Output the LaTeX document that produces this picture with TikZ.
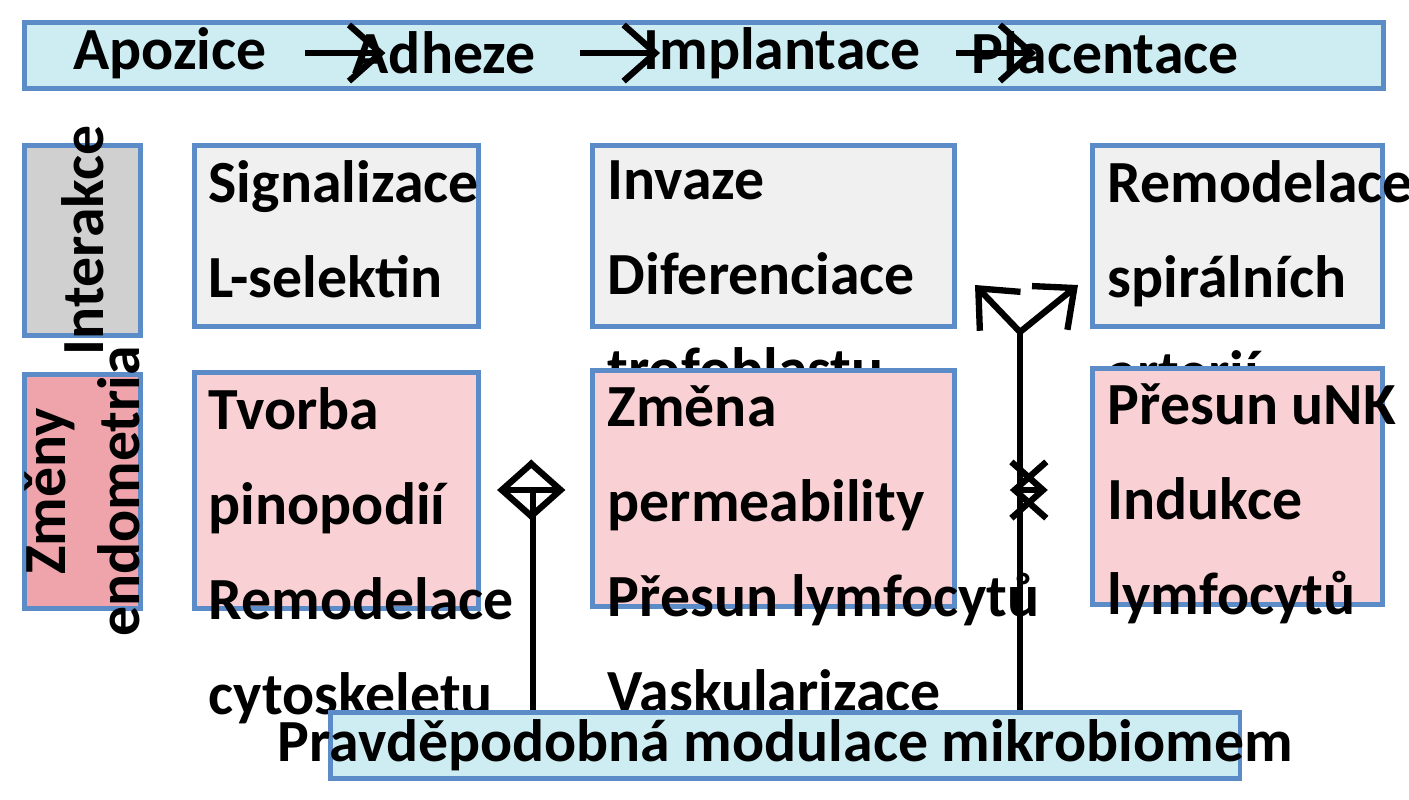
\documentclass[tikz,border=0pt]{standalone}
\usepackage{fontspec}
\setmainfont{Carlito}
\usetikzlibrary{arrows.meta,positioning}

\definecolor{bord}{HTML}{5B8CC8}
\definecolor{cyanfill}{HTML}{CDEDF2}
\definecolor{grayfill}{HTML}{F0F0F0}
\definecolor{pinkfill}{HTML}{F9D0D3}
\definecolor{sidegray}{HTML}{D0D0D0}
\definecolor{sidepink}{HTML}{EFA3AB}

\tikzset{
  box/.style={draw=bord, line width=1.4pt, anchor=north west, inner sep=0pt},
  lbl/.style={anchor=north west, align=left, inner sep=0pt, font=\fontsize{17}{27}\selectfont\bfseries},
  head/.style={font=\fontsize{17}{20}\selectfont\bfseries, inner sep=0pt},
  arr/.style={line width=1.8pt, -{Straight Barb[length=9pt,width=16pt,line width=1.8pt]}},
  darr/.style={line width=1.8pt, {Straight Barb[length=9pt,width=16pt,line width=1.8pt]}-{Straight Barb[length=9pt,width=16pt,line width=1.8pt]}}
}

\begin{document}
\begin{tikzpicture}[x=0.01cm,y=-0.01cm]
\useasboundingbox (0,0) rectangle (1409,800);

% Top bar
\node[box, fill=cyanfill, minimum width=13.58cm, minimum height=0.66cm] (top) at (22,20) {};
\node[head] (apo) at (170,53) {Apozice};
\node[head] (adh) at (444,53) {Adheze};
\node[head] (imp) at (782,53) {Implantace};
\node[head] (pla) at (1105,53) {Placentace};
\draw[arr] (apo.east) ++(38,0) -- ++(80,0);
\draw[arr] (adh.east) ++(44,0) -- ++(80,0);
\draw[arr] (imp.east) ++(35,0) -- ++(80,0);

% Side labels
\node[box, fill=sidegray, minimum width=1.16cm, minimum height=1.9cm] (inter) at (22,143) {};
\node[head, rotate=90] at (inter.center) {Interakce};
\node[box, fill=sidepink, minimum width=1.16cm, minimum height=2.34cm] (zmeny) at (22,372) {};
\node[head, rotate=90, align=center, font=\fontsize{17}{21}\selectfont\bfseries] at (zmeny.center) {Změny\\endometria};

% First row
\node[box, fill=grayfill, minimum width=2.84cm, minimum height=1.81cm] (sig) at (192,143) {};
\node[lbl] at (208,160) {Signalizace\\L-selektin};
\node[box, fill=grayfill, minimum width=3.62cm, minimum height=1.81cm] (inv) at (590,143) {};
\node[lbl] at (607,160) {Invaze\\Diferenciace\\trofoblastu};
\node[box, fill=grayfill, minimum width=2.9cm, minimum height=1.81cm] (rem) at (1090,143) {};
\node[lbl] at (1107,160) {Remodelace\\spirálních\\arterií};

% Second row
\node[box, fill=pinkfill, minimum width=2.84cm, minimum height=2.36cm] (tvo) at (192,370) {};
\node[lbl] at (208,387) {Tvorba\\pinopodií\\Remodelace\\cytoskeletu};
\node[box, fill=pinkfill, minimum width=3.62cm, minimum height=2.36cm] (zme) at (590,368) {};
\node[lbl] at (607,385) {Změna\\permeability\\Přesun lymfocytů\\Vaskularizace};
\node[box, fill=pinkfill, minimum width=2.9cm, minimum height=2.36cm] (pre) at (1090,366) {};
\node[lbl] at (1107,383) {Přesun uNK\\Indukce\\lymfocytů};

% Bottom bar
\node[box, fill=cyanfill, minimum width=9.09cm, minimum height=0.66cm] (mod) at (328,710) {};
\node[head] at (mod.center) {Pravděpodobná modulace mikrobiomem};

% Connectors
\coordinate (lj) at (533,490);
\coordinate (rj) at (1020,332);
\draw[line width=1.8pt] (mod.north -| lj) -- (lj);
\draw[darr] (tvo.east |- lj) ++(16,0) -- ([xshift=-7pt]zme.west |- lj);
\draw[line width=1.8pt] (mod.north -| rj) -- (rj);
\draw[arr] (rj) -- (975,285);
\draw[arr] (rj) -- (1078,285);
\draw[darr] ([xshift=15]zme.east |- lj) -- ([xshift=-12]pre.west |- lj);
\end{tikzpicture}
\end{document}
